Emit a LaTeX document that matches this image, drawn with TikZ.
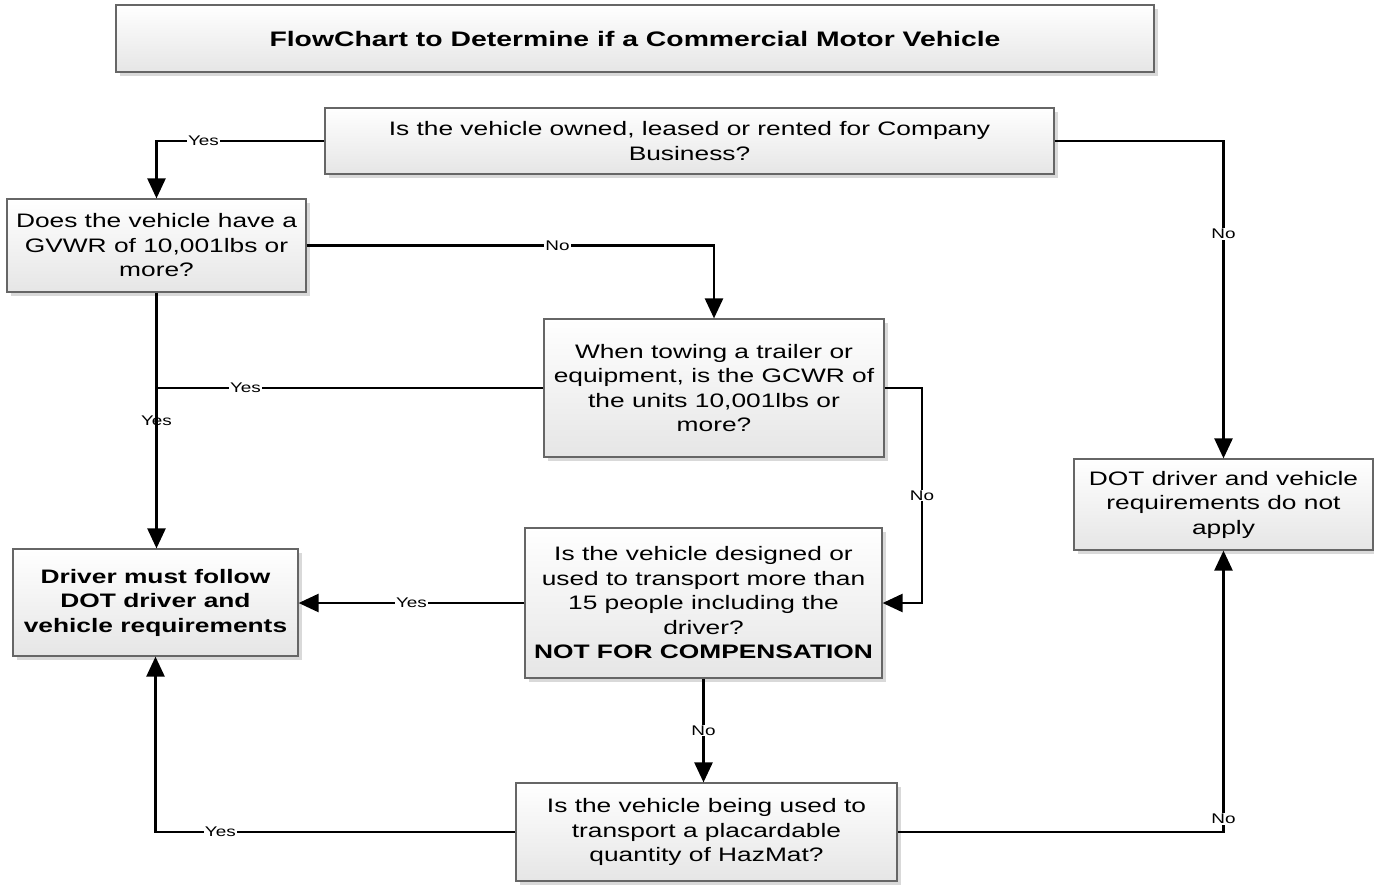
\documentclass[tikz,border=0pt]{standalone}
\usepackage{fontspec}
\setmainfont{Liberation Sans}[FakeStretch=1.35]
\usetikzlibrary{arrows.meta,shadows}

\begin{document}
\begin{tikzpicture}[x=1pt,y=-1pt]
        % Define styles
        \tikzset{
            box/.style={rectangle, draw=black!60, line width=1.2pt, top color=white, bottom color=black!10, drop shadow={shadow xshift=4pt, shadow yshift=-4pt, fill=black!25, opacity=0.6}, align=center, inner sep=2pt, font=\fontsize{19.5}{24.5}\selectfont},
            arrow/.style={-{Triangle[length=20pt,width=18pt]}, line width=2.5pt},
            link/.style={line width=2.5pt},
            answer/.style={fill=white, inner sep=1pt, font=\fontsize{14}{16}\selectfont}
        }
        \useasboundingbox (0,0) rectangle (1374,884);

        % Nodes
        \node[box, minimum width=1038, minimum height=67, font=\fontsize{21}{25}\selectfont\bfseries] (title_node) at (635,38.5) {FlowChart to Determine if a Commercial Motor Vehicle};
        \node[box, minimum width=729, minimum height=66] (question_node_1) at (689.5,141) {Is the vehicle owned, leased or rented for Company\\ Business?};
        \node[box, minimum width=299, minimum height=93] (question_node_2) at (156.5,245.5) {Does the vehicle have a\\ GVWR of 10,001lbs or\\ more?};
        \node[box, minimum width=340, minimum height=138] (question_node_3) at (714,388) {When towing a trailer or\\ equipment, is the GCWR of\\ the units 10,001lbs or\\ more?};
        \node[box, minimum width=357, minimum height=150] (question_node_4) at (703.5,603) {Is the vehicle designed or\\ used to transport more than\\ 15 people including the\\ driver?\\ \textbf{NOT FOR COMPENSATION}};
        \node[box, minimum width=381, minimum height=98] (question_node_5) at (706.5,832) {Is the vehicle being used to\\ transport a placardable\\ quantity of HazMat?};
        \node[box, minimum width=285, minimum height=107, font=\fontsize{19.5}{24.5}\selectfont\bfseries] (result_node_1) at (155.5,602.5) {Driver must follow\\ DOT driver and\\ vehicle requirements};
        \node[box, minimum width=299, minimum height=91] (result_node_2) at (1223.5,504.5) {DOT driver and vehicle\\ requirements do not\\ apply};
        \coordinate (tow_elbow) at (922,388);

        % Arrows
        \draw[arrow] (question_node_1.west) -| (question_node_2.north) node[answer, pos=0.36] {Yes};
        \draw[arrow] (question_node_1.east) -| (result_node_2.north) node[answer, pos=0.646] {No};
        \draw[arrow] (question_node_2.east) -| (question_node_3.north) node[answer, pos=0.308] {No};
        \draw[arrow] (question_node_2.south) -- (question_node_2.south |- result_node_1.north) node[midway, font=\fontsize{14}{16}\selectfont] {Yes};
        \draw[link] (question_node_3.west) -- (question_node_3.west -| question_node_2.south) node[answer, pos=0.77] {Yes};
        \draw[arrow] (question_node_3.east) -- (tow_elbow) |- (question_node_4.east) node[answer, pos=0.25] {No};
        \draw[arrow] (question_node_4.west) -- (question_node_4.west -| result_node_1.east) node[answer, midway] {Yes};
        \draw[arrow] (question_node_4.south) -- (question_node_4.south |- question_node_5.north) node[answer, midway] {No};
        \draw[arrow] (question_node_5.west) -| (result_node_1.south) node[answer, pos=0.41] {Yes};
        \draw[arrow] (question_node_5.east) -| (result_node_2.south) node[answer, pos=0.523] {No};
\end{tikzpicture}
\end{document}
